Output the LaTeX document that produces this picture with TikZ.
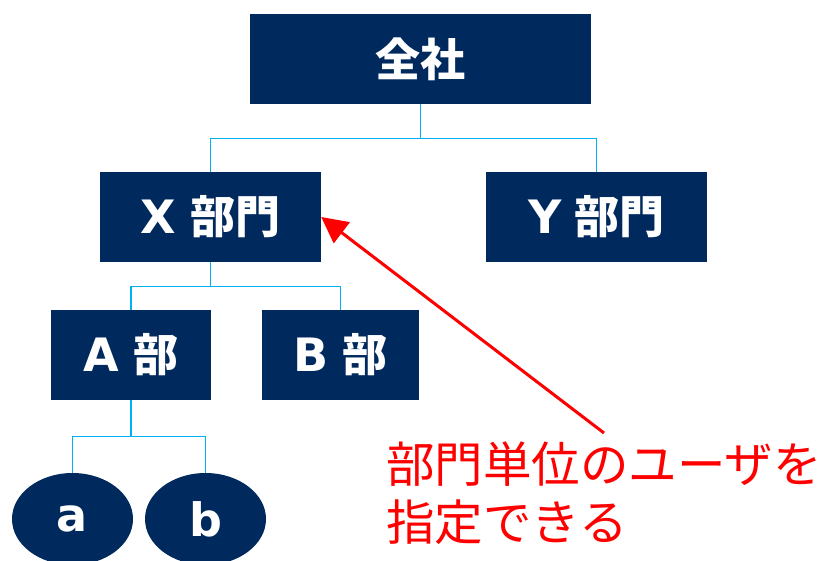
\documentclass[tikz,border=0pt]{standalone}
\usepackage{fontspec}
\usetikzlibrary{shapes.geometric,arrows.meta,calc}
\newfontfamily\jpfont{Noto Sans CJK JP}
\newfontfamily\latfont{DejaVu Sans}
\definecolor{navy}{HTML}{002A5E}
\definecolor{conn}{HTML}{00B0F0}
\definecolor{note}{HTML}{FF0000}
\newcommand{\jb}[1]{{\jpfont\bfseries #1}}
\newcommand{\lb}[1]{{\latfont\bfseries\fontsize{46}{50}\selectfont #1}}
\begin{document}
\begin{tikzpicture}[x=1pt,y=-1pt,
  box/.style={rectangle,fill=navy,text=white,inner sep=0pt,minimum height=90pt,
    font=\fontsize{45}{50}\selectfont},
  oval/.style={ellipse,fill=navy,text=white,inner sep=0pt,minimum width=121pt,minimum height=92pt},
  link/.style={draw=conn,line width=1.2pt},
  pointer/.style={draw=note,line width=3pt,-{Triangle[length=26pt,width=26pt]}}]
\useasboundingbox (0,0) rectangle (821,560);
\node[box,minimum width=341pt] (top) at (420.5,59) {\jb{全社}};
\node[box,minimum width=221pt] (X) at (210.5,217) {\lb{X} \jb{部門}};
\node[box,minimum width=221pt] (Y) at (596.5,217) {\lb{Y} \jb{部門}};
\node[box,minimum width=160pt] (A) at (131,355) {\lb{A} \jb{部}};
\node[box,minimum width=157pt] (B) at (340.5,355) {\lb{B} \jb{部}};
\node[oval] (a) at (72.5,519) {\lb{a}};
\node[oval] (b) at (205.5,519) {\lb{b}};
\coordinate (j1) at ($(top.south)+(0,34)$);
\coordinate (j2) at ($(X.south)+(0,24)$);
\coordinate (j3) at ($(A.south)+(0,36)$);
\draw[link] (top.south) -- (j1) -| (X.north);
\draw[link] (j1) -| (Y.north);
\draw[link] (X.south) -- (j2) -| (A.north);
\draw[link] (j2) -| (B.north);
\draw[link] (A.south) -- (j3) -| (a.north);
\draw[link] (j3) -| (b.north);
\node[anchor=north west,inner sep=0pt,align=left,text=note,
  font=\jpfont\fontsize{48.5}{58}\selectfont] (txt) at (386,442) {部門単位のユーザを\\指定できる};
\coordinate (tail) at (604,433);
\draw[pointer] (tail) -- (X.east);
\end{tikzpicture}
\end{document}
